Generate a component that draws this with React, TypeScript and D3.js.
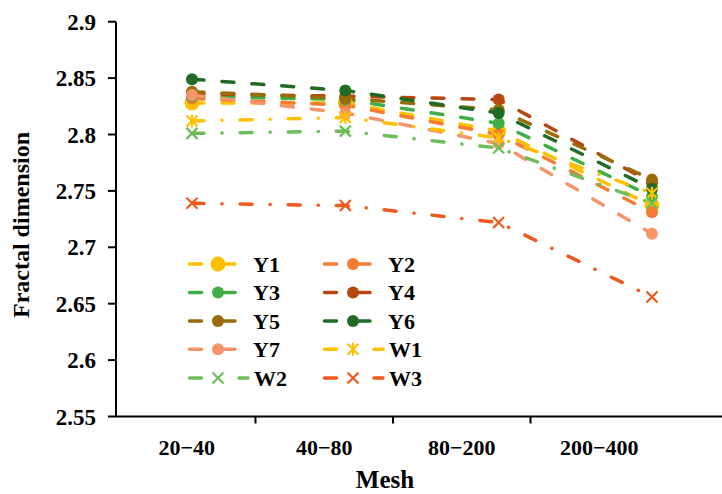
import React, { useEffect, useRef } from "react";
import * as d3 from "d3";

const categories = ["20\u221240", "40\u221280", "80\u2212200", "200\u2212400"];
const yTicks = [2.55, 2.6, 2.65, 2.7, 2.75, 2.8, 2.85, 2.9];

const seriesNames = ["Y1", "Y2", "Y3", "Y4", "Y5", "Y6", "Y7", "W1", "W2", "W3"];
const Y1 = [2.828, 2.828, 2.803, 2.737];
const Y2 = [2.832, 2.826, 2.8, 2.731];
const Y3 = [2.834, 2.831, 2.81, 2.745];
const Y4 = [2.836, 2.834, 2.831, 2.757];
const Y5 = [2.838, 2.832, 2.822, 2.76];
const Y6 = [2.849, 2.839, 2.819, 2.752];
const Y7 = [2.835, 2.819, 2.792, 2.712];
const W1 = [2.812, 2.815, 2.797, 2.748];
const W2 = [2.801, 2.803, 2.788, 2.739];
const W3 = [2.739, 2.737, 2.722, 2.656];
const seriesValues = [Y1, Y2, Y3, Y4, Y5, Y6, Y7, W1, W2, W3];

const colors = ["#FFC000", "#F47B30", "#3FAE48", "#B5470F", "#9A6B06", "#1F6B26", "#F7946A", "#FFC000", "#6DBE5A", "#EE5A1C"];
const markers = ["bigcircle", "circle", "circle", "circle", "circle", "circle", "circle", "asterisk", "cross", "cross"];

const FONT_STYLE = "font-family: 'Liberation Serif', 'Times New Roman', 'DejaVu Serif', serif; font-weight: bold;";

function drawMarker(g: d3.Selection<SVGGElement, unknown, null, undefined>, kind: string, x: number, y: number, color: string) {
  if (kind === "bigcircle" || kind === "circle") {
    g.append("circle")
      .attr("cx", x)
      .attr("cy", y)
      .attr("r", kind === "bigcircle" ? 7.5 : 6)
      .attr("fill", color);
  } else {
    const s = 5.5;
    const p = d3.path();
    p.moveTo(x - s, y - s); p.lineTo(x + s, y + s);
    p.moveTo(x - s, y + s); p.lineTo(x + s, y - s);
    if (kind === "asterisk") {
      p.moveTo(x, y - s - 1); p.lineTo(x, y + s + 1);
    }
    g.append("path")
      .attr("d", p.toString())
      .attr("stroke", color)
      .attr("stroke-width", 2.2)
      .attr("fill", "none");
  }
}

export default function App() {
  const ref = useRef<SVGSVGElement>(null);

  useEffect(() => {
    const svg = d3.select(ref.current);
    svg.selectAll("*").remove();

    const left = 116, right = 722, top = 21.7, bottom = 416.5;

    const yScale = d3.scaleLinear().domain([2.55, 2.9]).range([bottom, top]);
    const xBand = d3.scaleBand().domain(categories).range([118, 668]).padding(0);
    const xPoint = d3.scalePoint().domain(categories).range([192, 652]);

    const g = svg.append("g");

    // y axis
    g.append("line").attr("x1", left).attr("x2", left).attr("y1", top).attr("y2", bottom)
      .attr("stroke", "#000").attr("stroke-width", 2);
    yTicks.forEach(t => {
      g.append("line").attr("x1", left - 8).attr("x2", left).attr("y1", yScale(t)).attr("y2", yScale(t))
        .attr("stroke", "#000").attr("stroke-width", 2);
      g.append("text")
        .attr("x", 96).attr("y", yScale(t)).attr("dy", "0.35em")
        .attr("text-anchor", "end")
        .attr("style", FONT_STYLE + " font-size: 23px;")
        .text(String(t));
    });

    // x axis
    g.append("line").attr("x1", left).attr("x2", right).attr("y1", bottom).attr("y2", bottom)
      .attr("stroke", "#000").attr("stroke-width", 2);
    categories.slice(1).forEach(c => {
      const x = xBand(c)!;
      g.append("line").attr("x1", x).attr("x2", x).attr("y1", bottom).attr("y2", bottom + 7)
        .attr("stroke", "#000").attr("stroke-width", 2);
    });
    categories.forEach(c => {
      g.append("text")
        .attr("x", xBand(c)! + xBand.bandwidth() / 2).attr("y", 455)
        .attr("text-anchor", "middle")
        .attr("style", FONT_STYLE + " font-size: 22px;")
        .text(c);
    });

    // axis titles
    g.append("text")
      .attr("x", 385).attr("y", 488)
      .attr("text-anchor", "middle")
      .attr("style", FONT_STYLE + " font-size: 25px;")
      .text("Mesh");
    g.append("text")
      .attr("transform", "translate(29,225) rotate(-90)")
      .attr("text-anchor", "middle")
      .attr("style", FONT_STYLE + " font-size: 24px;")
      .text("Fractal dimension");

    // lines
    const line = d3.line<number>()
      .x((_, i) => xPoint(categories[i])!)
      .y(d => yScale(d));

    seriesValues.forEach((vals, si) => {
      const isW = seriesNames[si].startsWith("W");
      g.append("path")
        .attr("d", line(vals)!)
        .attr("fill", "none")
        .attr("stroke", colors[si])
        .attr("stroke-width", 3.5)
        .attr("stroke-linecap", "round")
        .attr("stroke-dasharray", isW ? "12 18 0.1 18" : "12 18");
    });
    seriesValues.forEach((vals, si) => {
      vals.forEach((v, i) => drawMarker(g, markers[si], xPoint(categories[i])!, yScale(v), colors[si]));
    });

    // legend
    const rowY = [264, 292.5, 321, 349.3, 378];
    const colX = [188, 323];
    seriesNames.forEach((name, si) => {
      const row = Math.floor(si / 2);
      const col = si % 2;
      const x0 = colX[col];
      const y0 = rowY[row];
      const isW = name.startsWith("W");
      const seg = (a: number, b: number) =>
        g.append("line").attr("x1", a).attr("x2", b).attr("y1", y0).attr("y2", y0)
          .attr("stroke", colors[si]).attr("stroke-width", 3.5).attr("stroke-linecap", "round");
      seg(x0 + 1.5, x0 + 13.5);
      if (isW) seg(x0 + 51, x0 + 60);
      else seg(x0 + 31, x0 + 47);
      drawMarker(g, markers[si], x0 + 30, y0, colors[si]);
      g.append("text")
        .attr("x", isW ? x0 + 66 : x0 + 65).attr("y", y0).attr("dy", "0.35em")
        .attr("style", FONT_STYLE + " font-size: 22px;")
        .text(name);
    });
  }, []);

  return (
    <svg ref={ref} width={722} height={494} style={{ position: "absolute", left: 0, top: 0, background: "#fff" }} />
  );
}
